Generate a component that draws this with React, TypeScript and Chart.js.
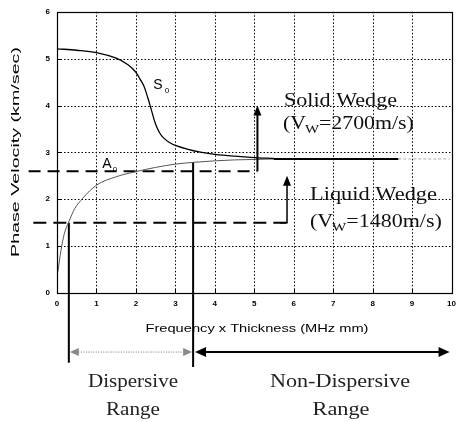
import React, { useEffect, useRef } from "react";
import { Chart, registerables } from "chart.js";

Chart.register(...registerables);

// ---- data ----
const xTickValues = [0, 1, 2, 3, 4, 5, 6, 7, 8, 9, 10];
const yTickValues = [0, 1, 2, 3, 4, 5, 6];

const s0X = [0, 0.5, 1, 1.5, 1.8, 2.0, 2.1, 2.2, 2.3, 2.4, 2.5, 2.6, 2.7, 2.85, 3.0, 3.3, 3.6, 4.0, 4.5, 5.0, 5.5];
const s0Y = [5.21, 5.18, 5.13, 5.01, 4.87, 4.71, 4.57, 4.42, 4.17, 3.88, 3.6, 3.42, 3.31, 3.21, 3.15, 3.07, 3.01, 2.96, 2.92, 2.89, 2.87];

const a0X = [0.02, 0.1, 0.18, 0.3, 0.45, 0.65, 1.0, 1.5, 2.0, 2.5, 3.0, 3.5, 4.0, 4.5, 5.0, 5.5];
const a0Y = [0.45, 0.9, 1.25, 1.52, 1.8, 2.02, 2.3, 2.48, 2.59, 2.68, 2.75, 2.79, 2.82, 2.84, 2.85, 2.86];

const mergedX = [5.5, 8.65];
const mergedY = [2.86, 2.86];
const tailX = [8.65, 9.95];
const tailY = [2.86, 2.86];

const solidWedgeX = [-0.72, 5.08];
const solidWedgeY = [2.6, 2.6];
const liquidWedgeX = [-0.6, 5.83];
const liquidWedgeY = [1.5, 1.5];

const solidArrowX = 5.08;
const solidArrowY = [2.6, 4.0];
const liquidArrowX = 5.83;
const liquidArrowY = [1.5, 2.5];

const dispBoundX = [0.3, 0.3];
const dispBoundY = [1.5, -1.49];
const nonDispBoundX = [3.45, 3.45];
const nonDispBoundY = [2.79, -1.58];

const rangeArrowY = -1.26;
const dispersiveRange = [0.3, 3.45];
const nonDispersiveRange = [3.5, 9.95];

const pts = (xs: number[], ys: number[]) => xs.map((x, i) => ({ x, y: ys[i] }));

function drawArrowHead(ctx: CanvasRenderingContext2D, x: number, y: number, ang: number, len: number, wid: number, color: string) {
  ctx.save();
  ctx.translate(x, y);
  ctx.rotate(ang);
  ctx.fillStyle = color;
  ctx.beginPath();
  ctx.moveTo(0, 0);
  ctx.lineTo(-len, -wid / 2);
  ctx.lineTo(-len, wid / 2);
  ctx.closePath();
  ctx.fill();
  ctx.restore();
}

function fitText(ctx: CanvasRenderingContext2D, text: string, left: number, baseline: number, width: number, font: string) {
  ctx.save();
  ctx.font = font;
  const w = ctx.measureText(text).width;
  ctx.translate(left, baseline);
  ctx.scale(width / w, 1);
  ctx.textAlign = "left";
  ctx.textBaseline = "alphabetic";
  ctx.fillText(text, 0, 0);
  ctx.restore();
}

function fitCentered(ctx: CanvasRenderingContext2D, text: string, cx: number, baseline: number, width: number, font: string) {
  fitText(ctx, text, cx - width / 2, baseline, width, font);
}

function subText(ctx: CanvasRenderingContext2D, a: string, sub: string, b: string, left: number, baseline: number, width: number, size: number) {
  ctx.save();
  const big = `${size}px "Liberation Serif", "DejaVu Serif", serif`;
  const small = `${Math.round(size * 0.7)}px "Liberation Serif", "DejaVu Serif", serif`;
  ctx.font = big;
  const wa = ctx.measureText(a).width;
  const wb = ctx.measureText(b).width;
  ctx.font = small;
  const ws = ctx.measureText(sub).width;
  const total = wa + ws + wb;
  ctx.translate(left, baseline);
  ctx.scale(width / total, 1);
  ctx.textBaseline = "alphabetic";
  ctx.textAlign = "left";
  ctx.font = big;
  ctx.fillText(a, 0, 0);
  ctx.font = small;
  ctx.fillText(sub, wa - 1, 4);
  ctx.font = big;
  ctx.fillText(b, wa + ws - 1, 0);
  ctx.restore();
}

function drawGrid(chart: any) {
  const { ctx, chartArea: ca, scales } = chart;
  const xs = scales.x;
  const ys = scales.y;
  ctx.save();
  ctx.strokeStyle = "#000";
  ctx.lineWidth = 1;
  ctx.setLineDash([1.5, 2]);
  for (const v of xTickValues.slice(1, -1)) {
    const p = Math.round(xs.getPixelForValue(v)) + 0.5;
    ctx.beginPath();
    ctx.moveTo(p, ca.top);
    ctx.lineTo(p, ca.bottom);
    ctx.stroke();
  }
  for (const v of yTickValues.slice(1, -1)) {
    const p = Math.round(ys.getPixelForValue(v)) + 0.5;
    ctx.beginPath();
    ctx.moveTo(ca.left, p);
    ctx.lineTo(ca.right, p);
    ctx.stroke();
  }
  ctx.setLineDash([]);
  for (const v of xTickValues.slice(1, -1)) {
    const p = Math.round(xs.getPixelForValue(v)) + 0.5;
    ctx.beginPath();
    ctx.moveTo(p, ca.bottom);
    ctx.lineTo(p, ca.bottom - 4);
    ctx.stroke();
  }
  for (const v of yTickValues.slice(1, -1)) {
    const p = Math.round(ys.getPixelForValue(v)) + 0.5;
    ctx.beginPath();
    ctx.moveTo(ca.left, p);
    ctx.lineTo(ca.left + 4, p);
    ctx.stroke();
  }
  ctx.restore();
}

const overlayPlugin = {
  id: "overlay",
  beforeDatasetsDraw(chart: any) {
    drawGrid(chart);
  },
  afterDatasetsDraw(chart: any) {
    const { ctx, chartArea: ca, scales } = chart;
    const xs = scales.x;
    const ys = scales.y;
    const px = (v: number) => xs.getPixelForValue(v);
    const py = (v: number) => ys.getPixelForValue(v);

    ctx.save();
    // plot frame
    ctx.strokeStyle = "#000";
    ctx.lineWidth = 1.2;
    ctx.setLineDash([]);
    ctx.strokeRect(Math.round(ca.left) + 0.5, Math.round(ca.top) + 0.5, Math.round(ca.right - ca.left), Math.round(ca.bottom - ca.top));

    // vertical wedge arrows
    ctx.lineWidth = 2;
    ctx.strokeStyle = "#000";
    const sx = px(solidArrowX);
    ctx.beginPath();
    ctx.moveTo(sx, py(solidArrowY[0]));
    ctx.lineTo(sx, py(solidArrowY[1]) + 8);
    ctx.stroke();
    drawArrowHead(ctx, sx, py(solidArrowY[1]), -Math.PI / 2, 10, 8, "#000");

    const lx = px(liquidArrowX);
    ctx.lineWidth = 1.5;
    ctx.beginPath();
    ctx.moveTo(lx - 7, py(liquidArrowY[0]));
    ctx.lineTo(lx, py(liquidArrowY[0]));
    ctx.lineTo(lx, py(liquidArrowY[1]) + 8);
    ctx.stroke();
    drawArrowHead(ctx, lx, py(liquidArrowY[1]), -Math.PI / 2, 10, 8, "#000");

    // range arrows below the axis
    const ay = py(rangeArrowY);
    const d0 = px(dispersiveRange[0]) + 1;
    const d1 = px(dispersiveRange[1]) - 1;
    ctx.strokeStyle = "#777";
    ctx.lineWidth = 1;
    ctx.setLineDash([1, 1.5]);
    ctx.beginPath();
    ctx.moveTo(d0 + 6, ay);
    ctx.lineTo(d1 - 6, ay);
    ctx.stroke();
    ctx.setLineDash([]);
    drawArrowHead(ctx, d0, ay, Math.PI, 9, 8, "#8a8a8a");
    drawArrowHead(ctx, d1, ay, 0, 9, 8, "#8a8a8a");

    const n0 = px(nonDispersiveRange[0]);
    const n1 = px(nonDispersiveRange[1]);
    ctx.strokeStyle = "#000";
    ctx.lineWidth = 2;
    ctx.beginPath();
    ctx.moveTo(n0 + 8, ay);
    ctx.lineTo(n1 - 8, ay);
    ctx.stroke();
    drawArrowHead(ctx, n0, ay, Math.PI, 11, 10, "#000");
    drawArrowHead(ctx, n1, ay, 0, 11, 10, "#000");

    // curve labels
    ctx.fillStyle = "#000";
    ctx.textAlign = "center";
    ctx.textBaseline = "middle";
    ctx.font = '14px "Liberation Sans", Arial, sans-serif';
    ctx.fillText("S", 158, 85);
    ctx.fillText("A", 107, 164);
    ctx.font = '8px "Liberation Sans", Arial, sans-serif';
    ctx.fillText("0", 167, 91);
    ctx.fillText("0", 115, 170);

    // axis titles
    const tf = '11px "Liberation Sans", Arial, sans-serif';
    fitCentered(ctx, "Frequency x Thickness (MHz mm)", 257, 332, 223, tf);
    ctx.save();
    ctx.translate(19, 152);
    ctx.rotate(-Math.PI / 2);
    fitCentered(ctx, "Phase Velocity (km/sec)", 0, 0, 210, tf);
    ctx.restore();

    // wedge annotations
    ctx.fillStyle = "#111";
    const sf = '19px "Liberation Serif", "DejaVu Serif", serif';
    fitText(ctx, "Solid Wedge", 284, 106, 113, sf);
    subText(ctx, "(V", "W", "=2700m/s)", 283, 129, 132, 19);
    fitText(ctx, "Liquid Wedge", 310, 200, 127, sf);
    subText(ctx, "(V", "W", "=1480m/s)", 310, 227, 133, 19);

    // range annotations
    ctx.fillStyle = "#222";
    fitCentered(ctx, "Dispersive", 133, 387, 90, sf);
    fitCentered(ctx, "Range", 133, 415, 54, sf);
    fitCentered(ctx, "Non-Dispersive", 340, 387, 140, sf);
    fitCentered(ctx, "Range", 341, 415, 57, sf);
    ctx.restore();
  },
};

export default function App() {
  const ref = useRef<HTMLCanvasElement>(null);

  useEffect(() => {
    if (!ref.current) return;
    const line = (data: any, extra: any) => ({
      data,
      pointRadius: 0,
      borderColor: "#000",
      borderWidth: 1,
      fill: false,
      ...extra,
    });
    const chart = new Chart(ref.current, {
      type: "line",
      data: {
        datasets: [
          line(pts(s0X, s0Y), { label: "S0", borderWidth: 1.3, tension: 0.35 }),
          line(pts(a0X, a0Y), { label: "A0", borderColor: "#555", borderWidth: 1, cubicInterpolationMode: "monotone" }),
          line(pts(mergedX, mergedY), { label: "merged", borderWidth: 2 }),
          line(pts(tailX, tailY), { label: "tail", borderColor: "#aaa", borderWidth: 1, borderDash: [3, 2] }),
          line(pts(solidWedgeX, solidWedgeY), { label: "solid", borderWidth: 2, borderDash: [12, 7], clip: false }),
          line(pts(liquidWedgeX, liquidWedgeY), { label: "liquid", borderWidth: 2, borderDash: [13, 7], clip: false }),
          line(pts(dispBoundX, dispBoundY), { label: "b1", borderWidth: 2, clip: false }),
          line(pts(nonDispBoundX, nonDispBoundY), { label: "b2", borderWidth: 2, clip: false }),
        ],
      },
      options: {
        animation: false,
        responsive: false,
        maintainAspectRatio: false,
        layout: { padding: { top: 11, right: 6, left: 0, bottom: 0 } },
        plugins: { legend: { display: false }, tooltip: { enabled: false } },
        scales: {
          x: {
            type: "linear",
            min: 0,
            max: 10,
            afterBuildTicks: (s: any) => {
              s.ticks = xTickValues.map((v) => ({ value: v }));
            },
            afterFit: (s: any) => {
              s.height = 129;
            },
            ticks: {
              color: "#000",
              padding: 6,
              maxRotation: 0,
              font: { family: '"Liberation Sans", Arial, sans-serif', size: 8, weight: "bold" },
            },
            grid: { display: false, drawTicks: false },
            border: { display: false },
          },
          y: {
            type: "linear",
            min: 0,
            max: 6,
            afterBuildTicks: (s: any) => {
              s.ticks = yTickValues.map((v) => ({ value: v }));
            },
            afterFit: (s: any) => {
              s.width = 57;
            },
            ticks: {
              color: "#000",
              padding: 7,
              font: { family: '"Liberation Sans", Arial, sans-serif', size: 8, weight: "bold" },
            },
            grid: { display: false, drawTicks: false },
            border: { display: false },
          },
        },
      },
      plugins: [overlayPlugin],
    } as any);
    return () => chart.destroy();
  }, []);

  return (
    <div style={{ position: "absolute", left: 0, top: 0, width: 462, height: 422, background: "#fff" }}>
      <canvas ref={ref} width={462} height={422} style={{ display: "block", width: 462, height: 422 }} />
    </div>
  );
}
